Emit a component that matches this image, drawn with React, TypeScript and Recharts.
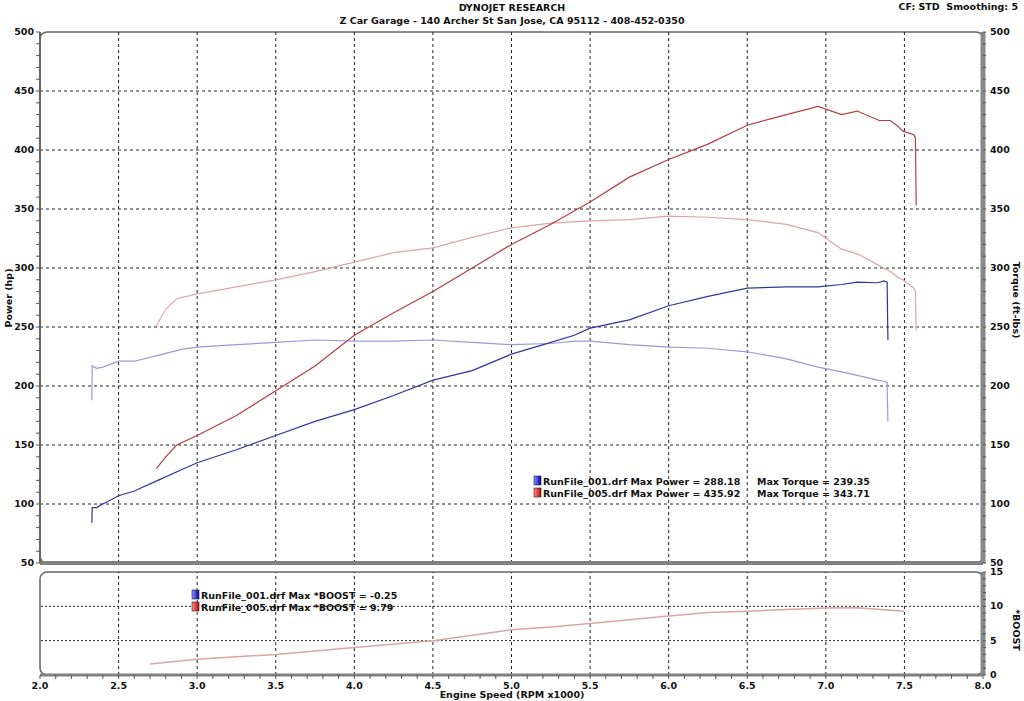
// Dyno sheet - power/torque vs engine speed, with boost strip below
// Two stacked Recharts panels sharing the same rpm scale

import React from 'react';
import {
    ComposedChart,
    Line,
    XAxis,
    YAxis,
    ReferenceLine,
    ReferenceArea
} from 'recharts';

// RunFile_001 (naturally aspirated)
const rpm001 = [2.33, 2.332, 2.36, 2.4, 2.5, 2.6, 2.75, 2.9, 3.0, 3.25, 3.5, 3.75, 4.0, 4.25, 4.5, 4.75, 5.0, 5.25, 5.4, 5.5, 5.75, 6.0, 6.25, 6.5, 6.75, 6.95, 7.1, 7.2, 7.33, 7.37, 7.39, 7.395];
const power001 = [84, 97, 97, 100, 107, 111, 120, 129, 135, 146, 158, 170, 180, 192, 205, 213, 227, 237, 243, 249, 256, 268, 276, 283, 284, 284, 286, 288, 287.5, 289, 288, 239];
const torque001 = [188, 217, 215, 216, 221, 221, 226, 231, 233, 235, 237, 239, 238, 238, 239, 237, 235, 236, 238, 238, 235, 233, 232, 229, 223, 216, 212, 209, 205, 204, 203, 170];

// RunFile_005 (boosted)
const rpm005 = [2.74, 2.8, 2.87, 3.0, 3.25, 3.5, 3.75, 4.0, 4.25, 4.5, 4.75, 5.0, 5.25, 5.5, 5.75, 6.0, 6.25, 6.5, 6.75, 6.95, 7.1, 7.2, 7.34, 7.41, 7.46, 7.49, 7.56, 7.57, 7.575];
const power005 = [130, 140, 150, 158, 175, 196, 217, 243, 262, 280, 300, 320, 337, 356, 377, 392, 405, 421, 430, 437, 430, 433, 425, 425, 420, 416, 413, 410, 353];
const torque005 = [251, 265, 274, 278, 284, 290, 297, 305, 313, 317, 326, 334, 338, 340, 341, 344, 343, 341, 337, 330, 316, 312, 302, 297, 292, 290, 283, 280, 247];

const boostRpm005 = [2.7, 3.0, 3.5, 4.0, 4.5, 5.0, 5.25, 5.5, 6.0, 6.25, 6.5, 6.75, 7.0, 7.2, 7.5];
const boost005 = [1.6, 2.3, 3.0, 4.0, 5.0, 6.6, 7.0, 7.5, 8.6, 9.1, 9.3, 9.55, 9.75, 9.79, 9.3];

// axis ticks
const rpmGrid = [2.5, 3.0, 3.5, 4.0, 4.5, 5.0, 5.5, 6.0, 6.5, 7.0, 7.5];
const powerGrid = [100, 150, 200, 250, 300, 350, 400, 450];
const boostGrid = [5, 10];
const powerTicks = Array.from({ length: 46 }, (_, i) => 50 + i * 10);
const rpmTicks = Array.from({ length: 61 }, (_, i) => +(2 + i * 0.1).toFixed(1));
const boostTicks = Array.from({ length: 16 }, (_, i) => i);

const run001 = rpm001.map((rpm, i) => ({ rpm, power: power001[i], torque: torque001[i] }));
const run005 = rpm005.map((rpm, i) => ({ rpm, power: power005[i], torque: torque005[i] }));
const boostRun005 = boostRpm005.map((rpm, i) => ({ rpm, boost: boost005[i] }));

const FONT = '"DejaVu Sans", Verdana, sans-serif';
const labelStyle = { fontFamily: FONT, fontSize: 9.5, fontWeight: 700, fill: '#111' };

const roundedBorder = (p: any) => (
    <rect x={p.x} y={p.y} width={p.width} height={p.height} rx={7} ry={7} fill="none" stroke="#666" strokeWidth={1.5} />
);

const makeTick = (step: number, anchor: 'start' | 'end', dx: number) => (props: any) => {
    const { x, y, payload } = props;
    const v = payload.value;
    if (Math.abs(v / step - Math.round(v / step)) > 1e-6) return <g />;
    return (
        <text x={x + dx} y={y} dy={3} textAnchor={anchor} style={labelStyle}>
            {v}
        </text>
    );
};

const RpmTick = (props: any) => {
    const { x, y, payload } = props;
    const v = payload.value;
    if (Math.abs(v * 2 - Math.round(v * 2)) > 1e-6) return <g />;
    return (
        <text x={x} y={y} dy={8} textAnchor="middle" style={labelStyle}>
            {v.toFixed(1)}
        </text>
    );
};

const Swatch: React.FC<{ x: number; y: number; id: string }> = ({ x, y, id }) => (
    <rect x={x} y={y} width={7} height={9} fill={`url(#${id})`} stroke="#222" strokeWidth={0.6} />
);

const DynoChart: React.FC = () => {
    return (
        <div style={{ position: 'absolute', left: 0, top: 0, width: 1024, height: 701, background: '#fff' }}>
            <div style={{ position: 'absolute', left: 0, top: 0 }}>
                <ComposedChart width={1024} height={575} margin={{ top: 32, right: 0, bottom: 0, left: 0 }}>
                    <XAxis
                        type="number"
                        dataKey="rpm"
                        domain={[2, 8]}
                        ticks={rpmGrid}
                        height={12}
                        tick={false}
                        tickLine={false}
                        axisLine={{ stroke: '#808080', strokeWidth: 4 }}
                    />
                    <YAxis
                        yAxisId="left"
                        domain={[50, 500]}
                        ticks={powerTicks}
                        interval={0}
                        width={40}
                        tickSize={4}
                        tick={makeTick(50, 'end', 0)}
                        tickLine={{ stroke: '#555' }}
                        axisLine={{ stroke: '#666', strokeWidth: 2 }}
                    />
                    <YAxis
                        yAxisId="right"
                        orientation="right"
                        domain={[50, 500]}
                        ticks={powerTicks}
                        interval={0}
                        width={41}
                        tickSize={3}
                        tick={makeTick(50, 'start', 2)}
                        tickLine={{ stroke: '#555' }}
                        axisLine={{ stroke: '#888', strokeWidth: 5 }}
                    />

                    {powerGrid.map((v) => (
                        <ReferenceLine key={`h${v}`} yAxisId="left" y={v} stroke="#222" strokeDasharray="3 3" />
                    ))}
                    {rpmGrid.map((v) => (
                        <ReferenceLine key={`v${v}`} yAxisId="left" x={v} stroke="#222" strokeDasharray="3 3" />
                    ))}
                    <ReferenceArea yAxisId="left" x1={2} x2={8} y1={50} y2={500} shape={roundedBorder} />

                    {/* torque (right axis) */}
                    <Line data={run001} yAxisId="right" dataKey="torque" type="linear" stroke="#9a9ad8" strokeWidth={1.2} dot={false} isAnimationActive={false} />
                    <Line data={run005} yAxisId="right" dataKey="torque" type="linear" stroke="#e2a2a6" strokeWidth={1.2} dot={false} isAnimationActive={false} />

                    {/* power (left axis) */}
                    <Line data={run001} yAxisId="left" dataKey="power" type="linear" stroke="#34349e" strokeWidth={1.2} dot={false} isAnimationActive={false} />
                    <Line data={run005} yAxisId="left" dataKey="power" type="linear" stroke="#b83c44" strokeWidth={1.2} dot={false} isAnimationActive={false} />
                </ComposedChart>
            </div>

            <div style={{ position: 'absolute', left: 0, top: 565 }}>
                <ComposedChart width={1024} height={136} margin={{ top: 7, right: 0, bottom: 0, left: 0 }}>
                    <XAxis
                        type="number"
                        dataKey="rpm"
                        domain={[2, 8]}
                        ticks={rpmTicks}
                        interval={0}
                        height={26}
                        tickSize={4}
                        tick={RpmTick}
                        tickLine={{ stroke: '#555' }}
                        axisLine={{ stroke: '#808080', strokeWidth: 3 }}
                    />
                    <YAxis yAxisId="left" domain={[0, 15]} width={40} tick={false} tickLine={false} axisLine={false} />
                    <YAxis
                        yAxisId="right"
                        orientation="right"
                        domain={[0, 15]}
                        ticks={boostTicks}
                        interval={0}
                        width={41}
                        tickSize={3}
                        tick={makeTick(5, 'start', 2)}
                        tickLine={{ stroke: '#555' }}
                        axisLine={{ stroke: '#888', strokeWidth: 5 }}
                    />

                    {boostGrid.map((v) => (
                        <ReferenceLine key={`b${v}`} yAxisId="right" y={v} stroke="#222" strokeDasharray="2 2" />
                    ))}
                    {rpmGrid.map((v) => (
                        <ReferenceLine key={`bv${v}`} yAxisId="right" x={v} stroke="#222" strokeDasharray="3 3" />
                    ))}
                    <ReferenceArea yAxisId="right" x1={2} x2={8} y1={0} y2={15} shape={roundedBorder} />

                    <Line data={boostRun005} yAxisId="right" dataKey="boost" type="linear" stroke="#dca4a6" strokeWidth={1.5} dot={false} isAnimationActive={false} />
                </ComposedChart>
            </div>

            {/* titles, axis names and run summaries */}
            <svg width={1024} height={701} style={{ position: 'absolute', left: 0, top: 0, pointerEvents: 'none' }}>
                <defs>
                    <linearGradient id="gBlue" x1="0" y1="0" x2="1" y2="0">
                        <stop offset="0" stopColor="#9090ff" />
                        <stop offset="1" stopColor="#0000b0" />
                    </linearGradient>
                    <linearGradient id="gRed" x1="0" y1="0" x2="1" y2="0">
                        <stop offset="0" stopColor="#ff9090" />
                        <stop offset="1" stopColor="#c00000" />
                    </linearGradient>
                </defs>

                <text x={512} y={11} textAnchor="middle" style={labelStyle}>DYNOJET RESEARCH</text>
                <text x={512} y={24} textAnchor="middle" style={labelStyle}>Z Car Garage - 140 Archer St San Jose, CA 95112 - 408-452-0350</text>
                <text x={1018} y={10} textAnchor="end" style={labelStyle} xmlSpace="preserve">CF: STD  Smoothing: 5</text>

                <text transform="translate(12,298) rotate(-90)" textAnchor="middle" style={labelStyle}>Power (hp)</text>
                <text transform="translate(1013,300) rotate(90)" textAnchor="middle" style={labelStyle}>Torque (ft-lbs)</text>
                <text transform="translate(1013,630) rotate(90)" textAnchor="middle" style={labelStyle}>*BOOST</text>
                <text x={512} y={698} textAnchor="middle" style={labelStyle}>Engine Speed (RPM x1000)</text>

                <Swatch x={534} y={476} id="gBlue" />
                <text x={543} y={485} style={labelStyle}>RunFile_001.drf Max Power = 288.18</text>
                <text x={757} y={485} style={labelStyle}>Max Torque = 239.35</text>
                <Swatch x={534} y={488} id="gRed" />
                <text x={543} y={497} style={labelStyle}>RunFile_005.drf Max Power = 435.92</text>
                <text x={757} y={497} style={labelStyle}>Max Torque = 343.71</text>

                <Swatch x={192} y={590} id="gBlue" />
                <text x={201} y={599} style={labelStyle}>RunFile_001.drf Max *BOOST = -0.25</text>
                <Swatch x={192} y={602} id="gRed" />
                <text x={201} y={611} style={labelStyle}>RunFile_005.drf Max *BOOST = 9.79</text>
            </svg>
        </div>
    );
};

export default function App() {
    return <DynoChart />;
}
